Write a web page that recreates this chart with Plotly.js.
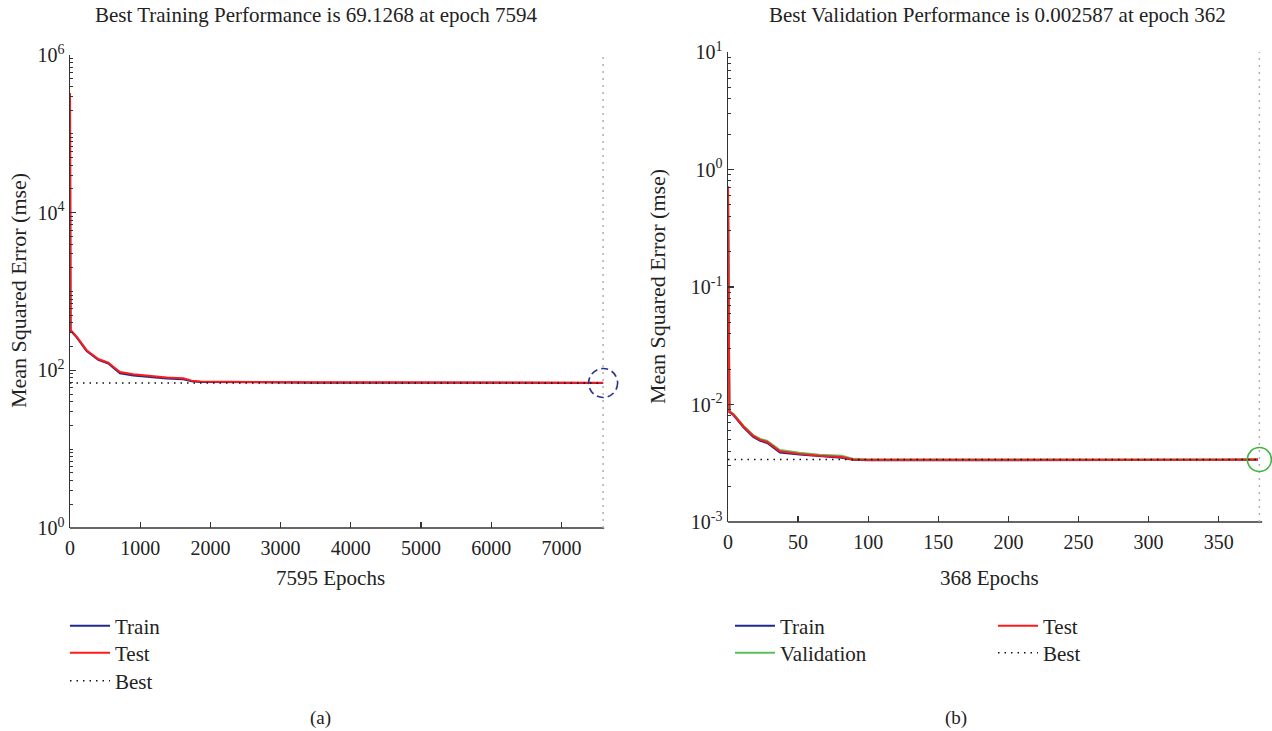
<!DOCTYPE html>
<html><head><meta charset="utf-8">
<script src="https://cdn.plot.ly/plotly-3.0.1.min.js"></script>
<style>html,body{margin:0;padding:0;background:#fff}#chart{width:1272px;height:731px}</style>
</head><body><div id="chart"></div>
<script>
// ---- data (a) ----
const epochsA = [0, 8, 95, 237, 403, 546, 617, 712, 902, 1140, 1377, 1614, 1733, 1852, 2500, 3500, 4500, 5500, 6500, 7594];
const trainA  = [330000, 320, 262, 176, 136, 122, 108, 92, 86, 82, 78.5, 77, 72.5, 71, 70.2, 69.8, 69.7, 69.5, 69.3, 69.13];
const testA   = [330000, 325, 268, 180, 139, 125, 111, 95, 89, 85, 81, 79.5, 74, 72, 71, 70.6, 70.5, 70.2, 70, 69.8];
const bestEpochA = 7594;
const bestValueA = 69.1268;
const xTicksA = [0, 1000, 2000, 3000, 4000, 5000, 6000, 7000];
const yTicksA = [1, 100, 1e4, 1e6];
const yLabelsA = ['10<sup>0</sup>', '10<sup>2</sup>', '10<sup>4</sup>', '10<sup>6</sup>'];

// ---- data (b) ----
const epochsB = [0, 1, 4, 11, 18, 23, 28, 33, 37, 51, 65, 81, 89, 100, 150, 200, 250, 300, 350, 378];
const trainB  = [0.70, 0.0086, 0.0081, 0.0064, 0.0053, 0.0049, 0.0047, 0.0042, 0.0039, 0.00375, 0.00362, 0.00352, 0.00338, 0.00336, 0.00335, 0.00335, 0.00336, 0.00336, 0.00337, 0.00338];
const validationB = [0.71, 0.0088, 0.0083, 0.0066, 0.0055, 0.0051, 0.0049, 0.0044, 0.0041, 0.00388, 0.00373, 0.00366, 0.00346, 0.0034, 0.00339, 0.00339, 0.0034, 0.0034, 0.00341, 0.00342];
const testB   = [0.72, 0.0087, 0.0082, 0.0065, 0.0054, 0.0050, 0.0048, 0.0043, 0.0040, 0.0038, 0.00367, 0.00358, 0.0034, 0.00338, 0.00337, 0.00337, 0.00338, 0.00338, 0.00339, 0.0034];
const bestEpochB = 379;
const bestValueB = 0.0034;
const xTicksB = [0, 50, 100, 150, 200, 250, 300, 350];
const yTicksB = [1e-3, 1e-2, 1e-1, 1, 10];
const yLabelsB = ['10<sup>-3</sup>', '10<sup>-2</sup>', '10<sup>-1</sup>', '10<sup>0</sup>', '10<sup>1</sup>'];

const titleA = 'Best Training Performance is 69.1268 at epoch 7594';
const titleB = 'Best Validation Performance is 0.002587 at epoch 362';
const xTitleA = '7595 Epochs';
const xTitleB = '368 Epochs';
const yTitle = 'Mean Squared Error (mse)';

// ---- styling ----
const W = 1272, H = 731;
const px = v => v / W;
const py = v => 1 - v / H;
const F = 'Liberation Serif';
const TXT = '#222';
const AX = '#333';
const BLUE = '#1f2a8c', RED = '#ff1a1a', GREEN = '#5cbf5c';
const yRangeA = [0, 6], yRangeB = [-3, 1];

function minorLog(lo, hi, extraDecades) {
  const out = [];
  for (let e = lo; e < hi; e++) for (let k = 2; k <= 9; k++) out.push(k * Math.pow(10, e));
  return out.concat(extraDecades || []);
}
// position of a value inside a log axis domain (0..1), for pixel-sized markers
const logFrac = (v, r) => (Math.log10(v) - r[0]) / (r[1] - r[0]);

const traces = [
  {x: epochsA, y: trainA, xaxis: 'x', yaxis: 'y', mode: 'lines', name: 'Train', line: {color: BLUE, width: 2}, legend: 'legend'},
  {x: epochsA, y: testA, xaxis: 'x', yaxis: 'y', mode: 'lines', name: 'Test', line: {color: RED, width: 2}, legend: 'legend2'},
  {x: [0, bestEpochA], y: [bestValueA, bestValueA], xaxis: 'x', yaxis: 'y', mode: 'lines', name: 'Best', line: {color: '#111', width: 1.5, dash: '1.5px,5px'}, legend: 'legend3'},
  {x: epochsB, y: trainB, xaxis: 'x2', yaxis: 'y2', mode: 'lines', name: 'Train', line: {color: BLUE, width: 2}, legend: 'legend4'},
  {x: epochsB, y: validationB, xaxis: 'x2', yaxis: 'y2', mode: 'lines', name: 'Validation', line: {color: GREEN, width: 2}, legend: 'legend5'},
  {x: epochsB, y: testB, xaxis: 'x2', yaxis: 'y2', mode: 'lines', name: 'Test', line: {color: RED, width: 2}, legend: 'legend6'},
  {x: [0, bestEpochB], y: [bestValueB, bestValueB], xaxis: 'x2', yaxis: 'y2', mode: 'lines', name: 'Best', line: {color: '#111', width: 1.5, dash: '1.5px,5px'}, legend: 'legend7'}
];

const tickFont = {family: F, size: 20, color: TXT};
const xCommon = {ticks: 'inside', ticklen: 6, tickwidth: 1.2, tickcolor: AX, showline: false, showgrid: false, zeroline: false, tickfont: tickFont, tickmode: 'array', ticklabelstandoff: 6, fixedrange: true};
const yCommon = {type: 'log', ticks: 'inside', ticklen: 6, tickwidth: 1.2, tickcolor: AX, showline: true, linecolor: AX, linewidth: 1.5, showgrid: false, zeroline: false, tickfont: tickFont, tickmode: 'array', fixedrange: true};

const legFont = {family: F, size: 21, color: TXT};
const leg = (x, y) => ({x: px(x), y: py(y), xanchor: 'left', yanchor: 'middle', font: legFont, bgcolor: 'rgba(0,0,0,0)', borderwidth: 0, itemwidth: 40, itemclick: false, itemdoubleclick: false});

const layout = {
  width: W, height: H,
  margin: {l: 0, r: 0, t: 0, b: 0},
  paper_bgcolor: '#fff', plot_bgcolor: '#fff',
  font: {family: F, color: TXT},
  showlegend: true,
  xaxis: Object.assign({}, xCommon, {domain: [px(70), px(625)], range: [0, 7906], anchor: 'y', tickvals: xTicksA}),
  yaxis: Object.assign({}, yCommon, {domain: [py(528), py(55)], range: yRangeA, anchor: 'x', tickvals: yTicksA, ticktext: yLabelsA,
    minor: {tickmode: 'array', tickvals: minorLog(0, 6, [10, 1e3, 1e5]), ticks: 'inside', ticklen: 3, tickwidth: 1, tickcolor: AX}}),
  xaxis2: Object.assign({}, xCommon, {domain: [px(728), px(1272)], range: [0, 388], anchor: 'y2', tickvals: xTicksB}),
  yaxis2: Object.assign({}, yCommon, {domain: [py(522), py(52)], range: yRangeB, anchor: 'x2', tickvals: yTicksB, ticktext: yLabelsB,
    minor: {tickmode: 'array', tickvals: minorLog(-3, 1), ticks: 'inside', ticklen: 3, tickwidth: 1, tickcolor: AX}}),
  legend: leg(65, 626),
  legend2: leg(65, 653),
  legend3: leg(65, 681),
  legend4: leg(730, 626),
  legend5: leg(730, 653),
  legend6: leg(993, 626),
  legend7: leg(993, 653),
  shapes: [
    // x-axis lines
    {type: 'line', xref: 'x', yref: 'y domain', x0: 0, x1: 7610, y0: 0, y1: 0, line: {color: AX, width: 1.5}},
    {type: 'line', xref: 'x2', yref: 'y2 domain', x0: 0, x1: 381, y0: 0, y1: 0, line: {color: AX, width: 1.5}},
    // vertical best-epoch markers
    {type: 'line', xref: 'x', yref: 'y domain', x0: bestEpochA, x1: bestEpochA, y0: 0, y1: 1, line: {color: '#b0b0b0', width: 1.5, dash: '2px,5px'}},
    {type: 'line', xref: 'x2', yref: 'y2 domain', x0: bestEpochB, x1: bestEpochB, y0: 0, y1: 1, line: {color: '#b0b0b0', width: 1.5, dash: '2px,5px'}},
    // best circles
    {type: 'circle', xref: 'x', yref: 'y domain', xsizemode: 'pixel', ysizemode: 'pixel', xanchor: bestEpochA, yanchor: logFrac(bestValueA, yRangeA),
      x0: -14.5, x1: 14.5, y0: -14.5, y1: 14.5, line: {color: '#2a318c', width: 1.6, dash: '7px,4px'}},
    {type: 'circle', xref: 'x2', yref: 'y2 domain', xsizemode: 'pixel', ysizemode: 'pixel', xanchor: bestEpochB, yanchor: logFrac(bestValueB, yRangeB),
      x0: -12, x1: 12, y0: -12, y1: 12, line: {color: '#3fb53f', width: 1.6}}
  ],
  annotations: [
    {text: titleA, xref: 'paper', yref: 'paper', x: px(316), y: py(15), showarrow: false, xanchor: 'center', yanchor: 'middle', font: {family: F, size: 21, color: TXT}},
    {text: titleB, xref: 'paper', yref: 'paper', x: px(997), y: py(15), showarrow: false, xanchor: 'center', yanchor: 'middle', font: {family: F, size: 21, color: TXT}},
    {text: xTitleA, xref: 'paper', yref: 'paper', x: px(330), y: py(578), showarrow: false, xanchor: 'center', yanchor: 'middle', font: {family: F, size: 21, color: TXT}},
    {text: xTitleB, xref: 'paper', yref: 'paper', x: px(989), y: py(578), showarrow: false, xanchor: 'center', yanchor: 'middle', font: {family: F, size: 21, color: TXT}},
    {text: yTitle, xref: 'paper', yref: 'paper', x: px(18), y: py(291), textangle: -90, showarrow: false, xanchor: 'center', yanchor: 'middle', font: {family: F, size: 22, color: TXT}},
    {text: yTitle, xref: 'paper', yref: 'paper', x: px(658), y: py(287), textangle: -90, showarrow: false, xanchor: 'center', yanchor: 'middle', font: {family: F, size: 22, color: TXT}},
    {text: '(a)', xref: 'paper', yref: 'paper', x: px(320), y: py(718), showarrow: false, xanchor: 'center', yanchor: 'middle', font: {family: F, size: 19, color: TXT}},
    {text: '(b)', xref: 'paper', yref: 'paper', x: px(956), y: py(718), showarrow: false, xanchor: 'center', yanchor: 'middle', font: {family: F, size: 19, color: TXT}}
  ]
};

Plotly.newPlot('chart', traces, layout, {staticPlot: true, displayModeBar: false});
</script>
</body></html>
